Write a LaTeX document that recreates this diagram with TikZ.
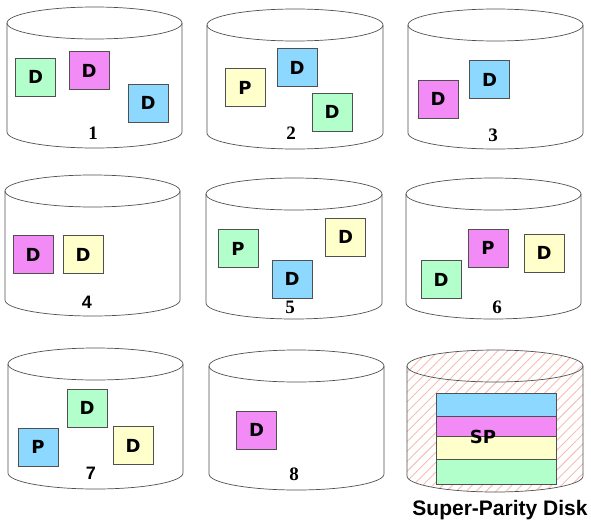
\documentclass[tikz,border=0pt]{standalone}
\usepackage{fontspec}
\usetikzlibrary{patterns.meta}
\newfontfamily\boxfont{DejaVu Sans}[BoldFont={DejaVu Sans Bold}]
\newfontfamily\numfont{Liberation Serif}
\newfontfamily\capfont{Liberation Sans}
\definecolor{dgreen}{RGB}{178,255,204}
\definecolor{dpink}{RGB}{243,139,246}
\definecolor{dblue}{RGB}{140,216,255}
\definecolor{dyellow}{RGB}{255,255,204}
\definecolor{hatchc}{RGB}{245,190,178}
\definecolor{lineg}{RGB}{80,80,80}
\tikzset{
  diskline/.style={draw=lineg, line width=0.7pt},
  blk/.style={draw=lineg, line width=0.7pt, minimum width=40pt, minimum height=38pt, inner sep=0pt, font=\boxfont\bfseries\fontsize{18}{18}\selectfont},
  num/.style={font=\numfont\bfseries\fontsize{19}{19}\selectfont, inner sep=0pt},
  snum/.style={font=\capfont\bfseries\fontsize{18}{18}\selectfont, inner sep=0pt},
}
\newcommand{\mydisk}[4]{%
  \draw[diskline] ({(#1+#2)/2},#3) ellipse [x radius={(#2-#1)/2}, y radius=16];
  \draw[diskline] (#1,#3) -- (#1,#4) arc[start angle=180, end angle=0, x radius={(#2-#1)/2}, y radius=16] -- (#2,#3);
}
\begin{document}
\begin{tikzpicture}[x=1pt, y=-1pt]
\useasboundingbox (0,0) rectangle (591,522);
% disks
\mydisk{7}{182}{23}{132}
\mydisk{207}{383}{25}{133}
\mydisk{408}{583}{25}{133}
\mydisk{5}{180}{191}{300}
\mydisk{206}{382}{194}{303}
\mydisk{406}{581}{194}{303}
\mydisk{8}{183}{364}{473}
\mydisk{209}{384}{366}{474}
% super-parity disk
\fill[pattern={Lines[angle=45, distance=7pt, line width=0.9pt]}, pattern color=hatchc]
  (407,366) -- (407,476) arc[start angle=180, end angle=0, x radius=88, y radius=16]
  -- (583,366) arc[start angle=0, end angle=-180, x radius=88, y radius=16] -- cycle;
\mydisk{407}{583}{366}{476}
% disk 1
\node[blk, fill=dgreen] (d1a) at (35.7,77) {D};
\node[blk, fill=dpink] (d1b) at (89,70.5) {D};
\node[blk, fill=dblue] (d1c) at (148,103) {D};
\node[num] (n1) at (93,133) {1};
% disk 2
\node[blk, fill=dyellow] (d2a) at (245,87.5) {P};
\node[blk, fill=dblue] (d2b) at (297,67.5) {D};
\node[blk, fill=dgreen] (d2c) at (332,112) {D};
\node[num] (n2) at (291,133) {2};
% disk 3
\node[blk, fill=dpink] (d3a) at (438,99) {D};
\node[blk, fill=dblue] (d3b) at (489.5,79.5) {D};
\node[num] (n3) at (493,135) {3};
% disk 4
\node[blk, fill=dpink] (d4a) at (33,254.5) {D};
\node[blk, fill=dyellow] (d4b) at (83,254.5) {D};
\node[snum] (n4) at (87,302) {4};
% disk 5
\node[blk, fill=dgreen] (d5a) at (238,248.5) {P};
\node[blk, fill=dblue] (d5b) at (292,279) {D};
\node[blk, fill=dyellow] (d5c) at (345.5,237) {D};
\node[num] (n5) at (290,307) {5};
% disk 6
\node[blk, fill=dgreen] (d6a) at (441,279.5) {D};
\node[blk, fill=dpink] (d6b) at (488,248) {P};
\node[blk, fill=dyellow] (d6c) at (544,253) {D};
\node[num] (n6) at (497,307) {6};
% disk 7
\node[blk, fill=dgreen] (d7a) at (87,408) {D};
\node[blk, fill=dblue] (d7b) at (38,447) {P};
\node[blk, fill=dyellow] (d7c) at (133,445.5) {D};
\node[snum] (n7) at (91,473) {7};
% disk 8
\node[blk, fill=dpink] (d8a) at (256.5,430) {D};
\node[num] (n8) at (294,474) {8};
% super parity stripes
\fill[dblue] (436,393) rectangle (556,416);
\fill[dpink] (436,416) rectangle (556,436);
\fill[dyellow] (436,436) rectangle (556,459);
\fill[dgreen] (436,459) rectangle (556,484);
\draw[diskline] (436,416) -- (556,416);
\draw[diskline] (436,436) -- (556,436);
\draw[diskline] (436,459) -- (556,459);
\draw[diskline] (436,393) rectangle (556,484);
\node[font=\boxfont\bfseries\fontsize{18}{18}\selectfont, inner sep=0pt] (sp) at (483,437) {SP};
\node[font=\capfont\bfseries\fontsize{21}{21}\selectfont, inner sep=0pt] (cap) at (500,510) {Super-Parity Disk};
\end{tikzpicture}
\end{document}
